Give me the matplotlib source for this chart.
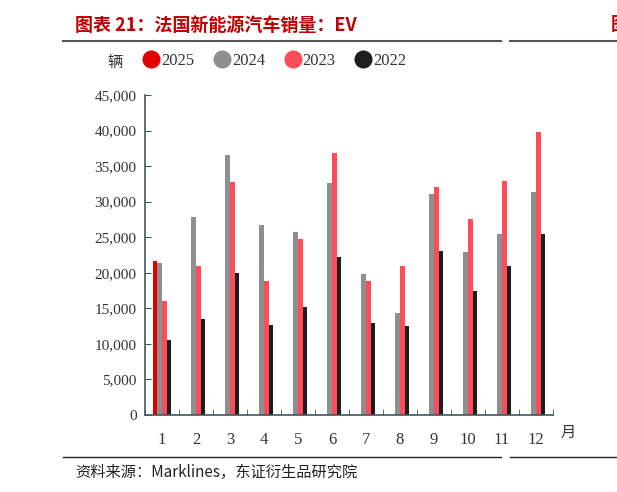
import matplotlib.pyplot as plt
from matplotlib.lines import Line2D
import numpy as np

plt.rcParams['font.family'] = ['Liberation Serif', 'Noto Sans CJK SC', 'DejaVu Sans']

months = ['1', '2', '3', '4', '5', '6', '7', '8', '9', '10', '11', '12']
years = ['2025', '2024', '2023', '2022']
sales_2025 = [21700]
sales_2024 = [21400, 27800, 36500, 26700, 25800, 32600, 19800, 14300, 31100, 22900, 25400, 31300]
sales_2023 = [16100, 21000, 32800, 18900, 24700, 36900, 18900, 21000, 32100, 27600, 32900, 39800]
sales_2022 = [10500, 13500, 19900, 12700, 15200, 22200, 12900, 12500, 23100, 17400, 21000, 25500]
series = [sales_2025, sales_2024, sales_2023, sales_2022]
colors = ['#e00000', '#8f8f8f', '#ff4b5a', '#1e1e1e']

fig = plt.figure(figsize=(6.17, 4.92), dpi=100)
ax = fig.add_axes([145 / 617, 1 - 415 / 492, 408 / 617, 320 / 492])

x = np.arange(len(months))
w = 0.135
for i, (vals, c) in enumerate(zip(series, colors)):
    xs = x[:len(vals)] + (i - 1.5) * w
    ax.bar(xs, vals, width=w, color=c, linewidth=0)

ax.set_xlim(-0.5, 11.5)
ax.set_ylim(0, 45000)
ax.set_yticks(range(0, 45001, 5000))
ax.set_yticklabels([f'{v:,}' for v in range(0, 45001, 5000)], fontsize=11, color='#333333')
ax.set_xticks(x)
ax.set_xticklabels(months, fontsize=12, color='#333333')
ax.set_xticks(np.arange(-0.5, 12, 1), minor=True)
ax.tick_params(axis='x', which='major', length=0, pad=12)
ax.tick_params(axis='x', which='minor', length=4, direction='in', color='#3d5a5a')
ax.tick_params(axis='y', length=4, direction='in', color='#3d5a5a', pad=6)
for s in ['top', 'right']:
    ax.spines[s].set_visible(False)
for s in ['left', 'bottom']:
    ax.spines[s].set_color('#3d5a5a')
    ax.spines[s].set_linewidth(1.2)

fig.text(568 / 617, 1 - 432 / 492, '月', fontsize=11, color='#333333',
         family=['Noto Sans CJK SC'], ha='center', va='center')

# title and rules
fig.text(75 / 617, 1 - 25 / 492, '图表 21：法国新能源汽车销量：EV', fontsize=13, color='#c00000',
         fontweight='bold', family=['Noto Sans CJK SC', 'Liberation Serif'], va='center')
fig.text(611 / 617, 1 - 25 / 492, '图', fontsize=13, color='#c00000',
         fontweight='bold', family=['Noto Sans CJK SC'], va='center', clip_on=True)
fig.add_artist(Line2D([63 / 617, 501 / 617], [1 - 41 / 492] * 2, color='#555555', lw=1.5))
fig.add_artist(Line2D([510 / 617, 1], [1 - 41 / 492] * 2, color='#555555', lw=1.5))
fig.add_artist(Line2D([63 / 617, 501 / 617], [1 - 457 / 492] * 2, color='#222222', lw=1))
fig.add_artist(Line2D([510 / 617, 1], [1 - 457 / 492] * 2, color='#222222', lw=1))

fig.text(75 / 617, 1 - 472 / 492, '资料来源：Marklines，东证衍生品研究院', fontsize=11, color='#222222',
         family=['Noto Sans CJK SC', 'Liberation Serif'], va='center')

# legend
fig.text(115 / 617, 1 - 62 / 492, '辆', fontsize=11, color='#333333',
         family=['Noto Sans CJK SC'], ha='center', va='center')
handles = [Line2D([], [], marker='o', linestyle='', markersize=12, color=c) for c in colors]
fig.legend(handles, years, ncol=4, frameon=False, loc='center left',
           bbox_to_anchor=(126 / 617, 1 - 61 / 492), fontsize=12, handletextpad=0.0,
           columnspacing=1.06, handlelength=1.2, labelcolor='#333333')

fig.savefig('out.png', dpi=100)
